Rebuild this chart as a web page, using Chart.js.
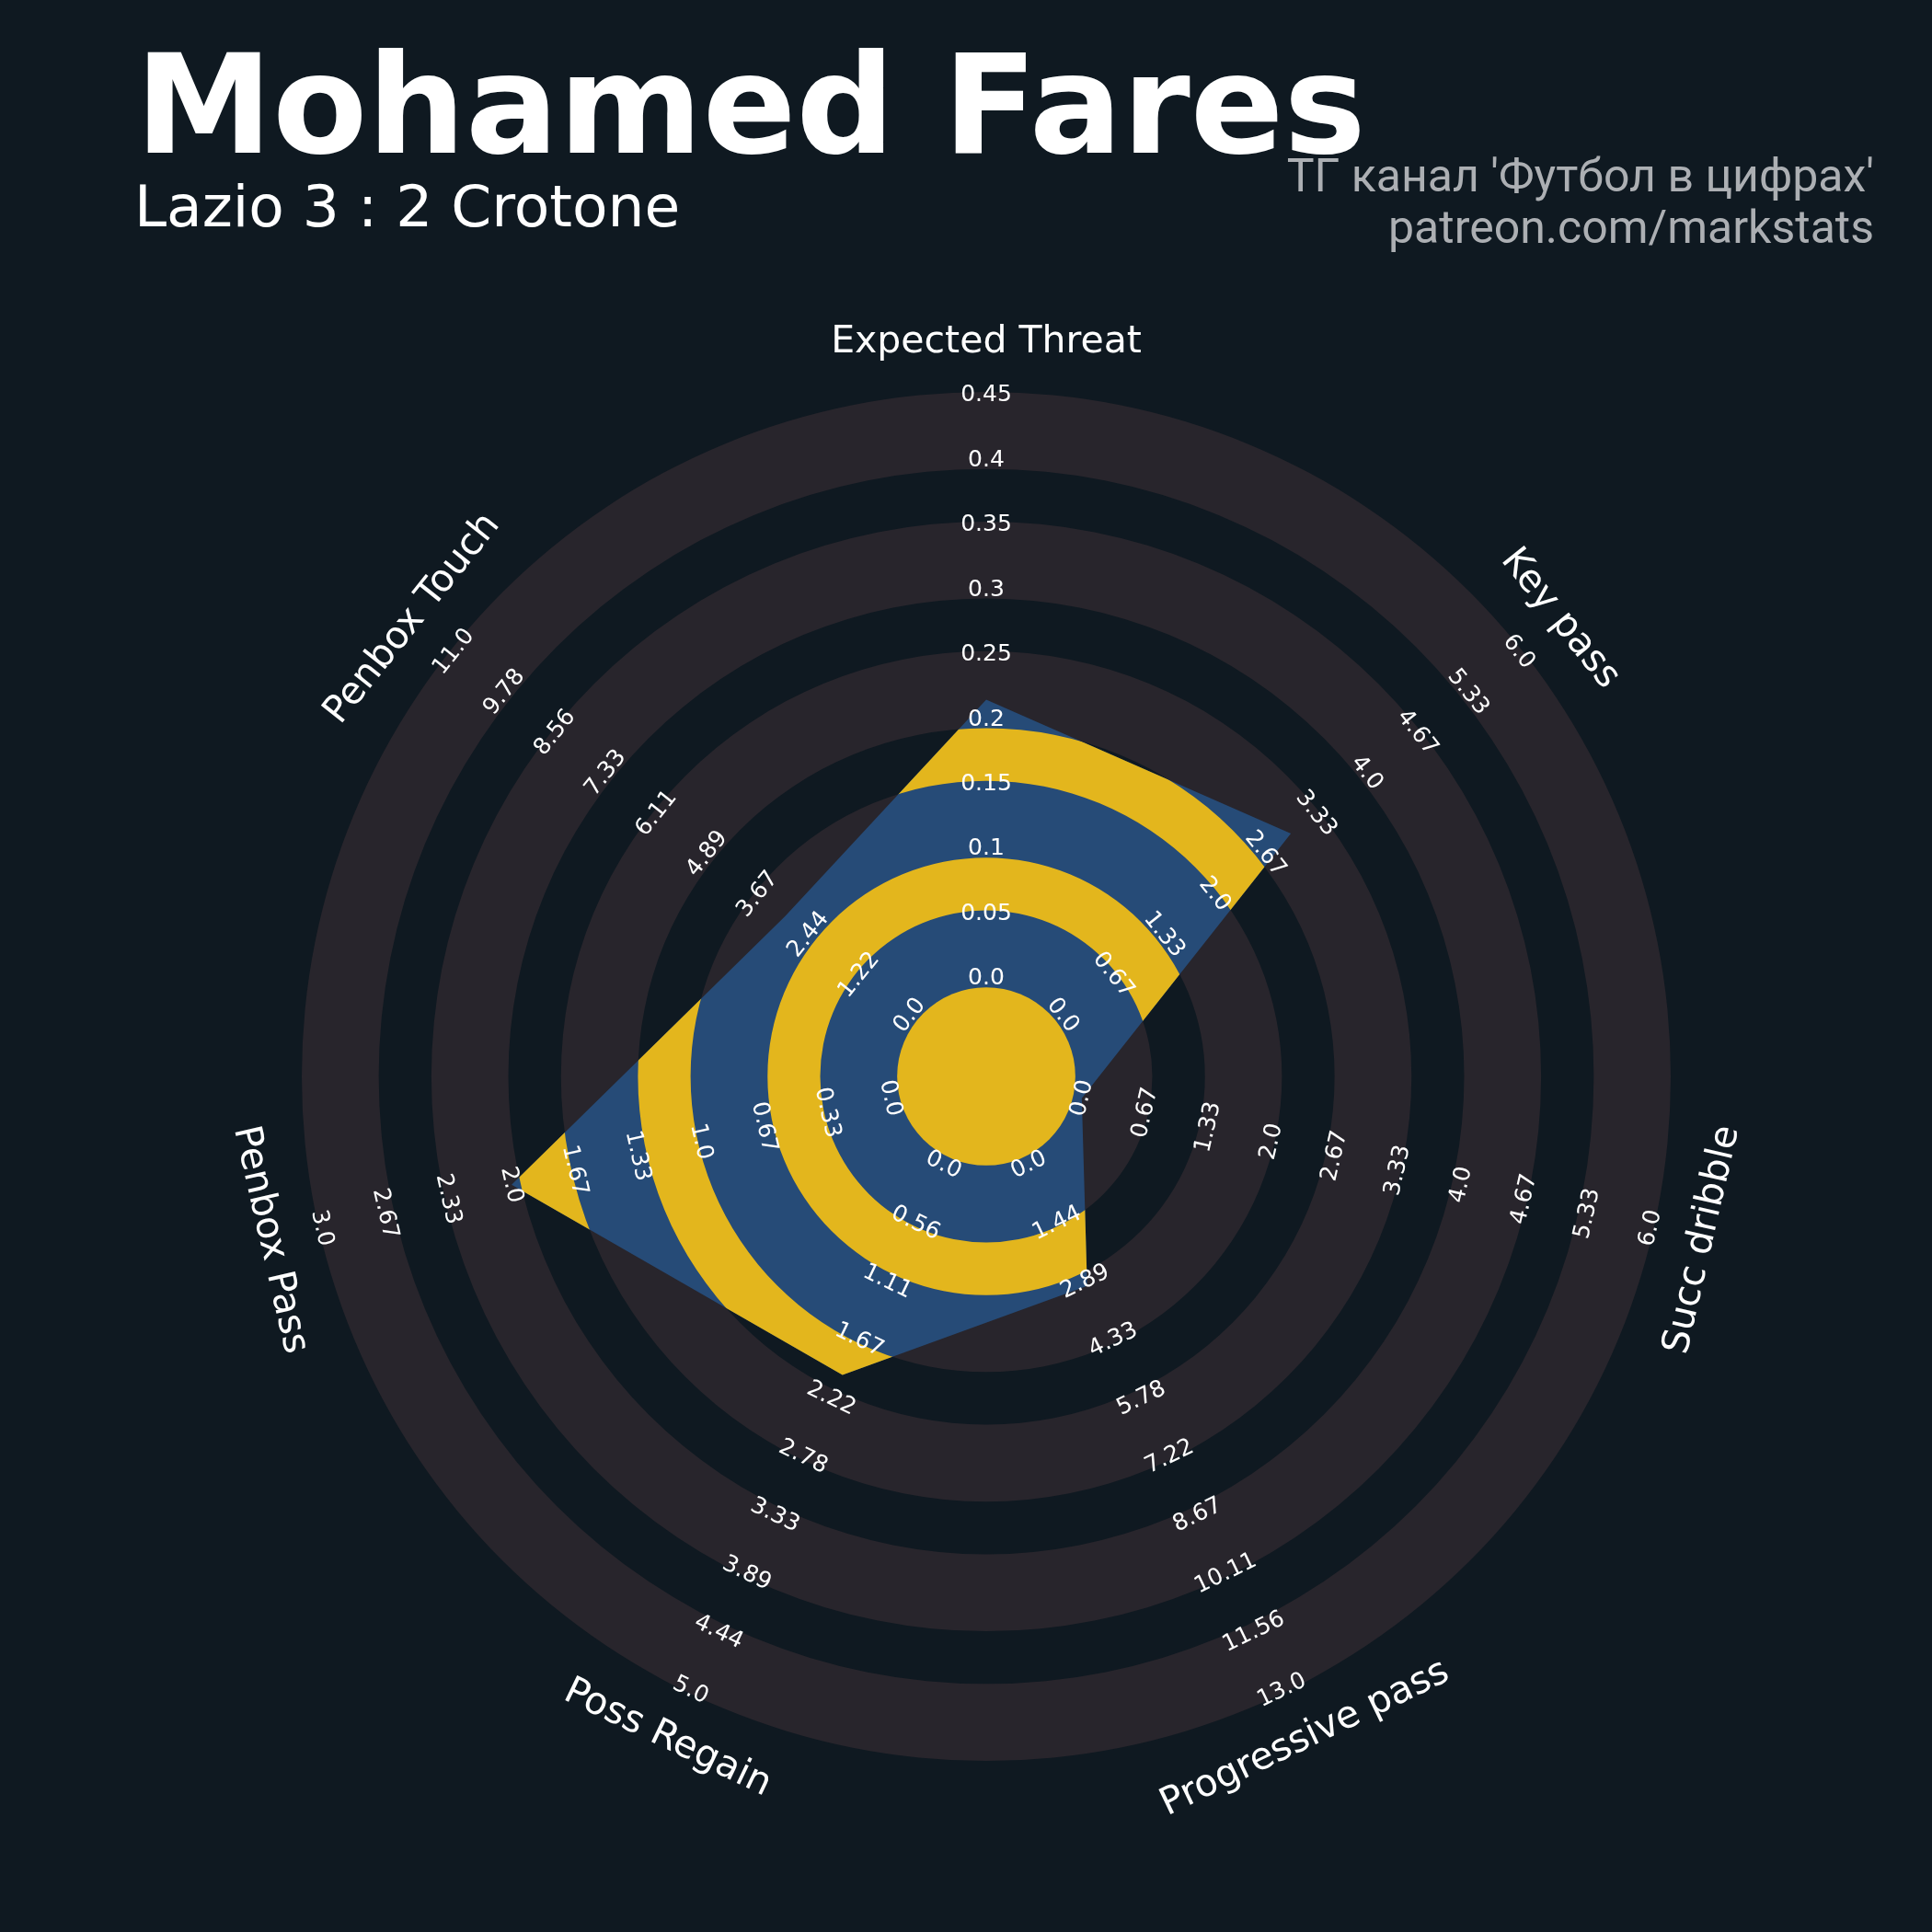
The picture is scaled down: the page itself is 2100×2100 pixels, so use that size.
<!DOCTYPE html>
<html>
<head>
<meta charset="utf-8">
<script src="https://cdn.jsdelivr.net/npm/chart.js@4.4.1/dist/chart.umd.min.js"></script>
<style>
html,body{margin:0;padding:0;background:#0F1921;}
#wrap{position:relative;width:2100px;height:2100px;overflow:hidden;background:#0F1921;}
#c{position:absolute;left:0;top:0;}
.t{position:absolute;white-space:nowrap;}
#title{left:147px;top:39px;font:bold 150px/150px "DejaVu Sans";color:#FFFFFF;}
#sub{left:146px;top:193px;font:63px/63px "DejaVu Sans";color:#FFFFFF;}
#credit{right:63px;top:163px;font:50px/56px Roboto;color:#ACAFB3;text-align:right;}
</style>
</head>
<body>
<div id="wrap">
<canvas id="c" width="2100" height="2100"></canvas>
<div class="t" id="title">Mohamed Fares</div>
<div class="t" id="sub">Lazio 3 : 2 Crotone</div>
<div class="t" id="credit">ТГ канал 'Футбол в цифрах'<br>patreon.com/markstats</div>
</div>
<script>
// ---------- data ----------
const params = ['Expected Threat', 'Key pass', 'Succ dribble', 'Progressive pass', 'Poss Regain', 'Penbox Pass', 'Penbox Touch'];
const values = [0.215, 3, 0, 3, 2, 2, 3];
const maxRange = [0.45, 6, 6, 13, 5, 3, 11];

const ticksXT = ['0.0', '0.05', '0.1', '0.15', '0.2', '0.25', '0.3', '0.35', '0.4', '0.45'];
const ticksKeyPass = ['0.0', '0.67', '1.33', '2.0', '2.67', '3.33', '4.0', '4.67', '5.33', '6.0'];
const ticksDribble = ['0.0', '0.67', '1.33', '2.0', '2.67', '3.33', '4.0', '4.67', '5.33', '6.0'];
const ticksProgPass = ['0.0', '1.44', '2.89', '4.33', '5.78', '7.22', '8.67', '10.11', '11.56', '13.0'];
const ticksRegain = ['0.0', '0.56', '1.11', '1.67', '2.22', '2.78', '3.33', '3.89', '4.44', '5.0'];
const ticksPenboxPass = ['0.0', '0.33', '0.67', '1.0', '1.33', '1.67', '2.0', '2.33', '2.67', '3.0'];
const ticksPenboxTouch = ['0.0', '1.22', '2.44', '3.67', '4.89', '6.11', '7.33', '8.56', '9.78', '11.0'];
const tickLabels = [ticksXT, ticksKeyPass, ticksDribble, ticksProgPass, ticksRegain, ticksPenboxPass, ticksPenboxTouch];

// ---------- style / geometry (in radar units, outer edge = 16.9) ----------
const BG = '#0F1921', RING_GRAY = '#28252C', POLY_BLUE = '#264B77', POLY_YELLOW = '#E3B61D';
const U_MAX = 16.9, CENTER_R = 2.2, PARAM_R = 18.13;
const LABEL_R0 = 2.42, LABEL_TOP = 16.82;
const LABEL_STEP = (LABEL_TOP - LABEL_R0) / 9;
const RING_BANDS = [[4.1, 5.4], [7.3, 8.6], [10.5, 11.8], [13.7, 15.0]];
// value 0 -> LABEL_R0, value 1 -> LABEL_TOP (normalised data)
const SCALE_MIN = -LABEL_R0 / (LABEL_TOP - LABEL_R0);
const SCALE_MAX = SCALE_MIN + U_MAX / (LABEL_TOP - LABEL_R0);

function fillRings(ctx, cx, cy, k, color) {
  ctx.fillStyle = color;
  ctx.beginPath();
  ctx.arc(cx, cy, CENTER_R * k, 0, Math.PI * 2);
  ctx.fill();
  RING_BANDS.forEach(([a, b]) => {
    ctx.beginPath();
    ctx.arc(cx, cy, b * k, 0, Math.PI * 2, false);
    ctx.moveTo(cx + a * k, cy);
    ctx.arc(cx, cy, a * k, 0, Math.PI * 2, true);
    ctx.fill();
  });
}

function rotText(ctx, text, x, y, rot, size) {
  ctx.save();
  ctx.translate(x, y);
  ctx.rotate(rot);
  ctx.font = size + 'px "DejaVu Sans"';
  ctx.textAlign = 'center';
  ctx.textBaseline = 'alphabetic';
  ctx.fillStyle = '#FFFFFF';
  ctx.fillText(text, 0, 0.276 * size);
  ctx.restore();
}

const radarDecor = {
  id: 'radarDecor',
  beforeDatasetsDraw(chart) {
    const s = chart.scales.r, ctx = chart.ctx;
    const k = s.drawingArea / U_MAX;
    ctx.save();
    ctx.fillStyle = RING_GRAY;
    ctx.beginPath();
    ctx.arc(s.xCenter, s.yCenter, U_MAX * k, 0, Math.PI * 2);
    ctx.fill();
    fillRings(ctx, s.xCenter, s.yCenter, k, BG);
    ctx.restore();
  },
  afterDatasetsDraw(chart) {
    const s = chart.scales.r, ctx = chart.ctx;
    const k = s.drawingArea / U_MAX;
    const pts = chart.getDatasetMeta(0).data;
    ctx.save();
    ctx.beginPath();
    pts.forEach((p, i) => { if (i === 0) ctx.moveTo(p.x, p.y); else ctx.lineTo(p.x, p.y); });
    ctx.closePath();
    ctx.clip();
    fillRings(ctx, s.xCenter, s.yCenter, k, POLY_YELLOW);
    ctx.restore();

    // range labels and parameter names
    params.forEach((name, i) => {
      const th = s.getIndexAngle(i);
      const rot = (th > Math.PI / 2 && th < Math.PI * 1.5) ? th - Math.PI : th;
      tickLabels[i].forEach((lab, j) => {
        const p = s.getPointPosition(i, s.getDistanceFromCenterForValue(j / 9));
        rotText(ctx, lab, p.x, p.y, rot, 25);
      });
      const q = s.getPointPosition(i, PARAM_R * k);
      rotText(ctx, name, q.x, q.y, rot, 41);
    });
  }
};

new Chart(document.getElementById('c'), {
  type: 'radar',
  data: {
    labels: params,
    datasets: [{
      data: values.map((v, i) => v / maxRange[i]),
      backgroundColor: POLY_BLUE,
      borderColor: 'rgba(0,0,0,0)',
      borderWidth: 0,
      pointRadius: 0,
      pointHoverRadius: 0,
      fill: 'start',
      tension: 0
    }]
  },
  options: {
    responsive: false,
    devicePixelRatio: 1,
    animation: false,
    layout: { padding: { left: 328, right: 284, top: 426, bottom: 186 } },
    plugins: { legend: { display: false }, tooltip: { enabled: false }, title: { display: false } },
    scales: {
      r: {
        min: SCALE_MIN,
        max: SCALE_MAX,
        ticks: { display: false, showLabelBackdrop: false },
        grid: { display: false },
        angleLines: { display: false },
        pointLabels: { display: false }
      }
    }
  },
  plugins: [radarDecor]
});
</script>
</body>
</html>
